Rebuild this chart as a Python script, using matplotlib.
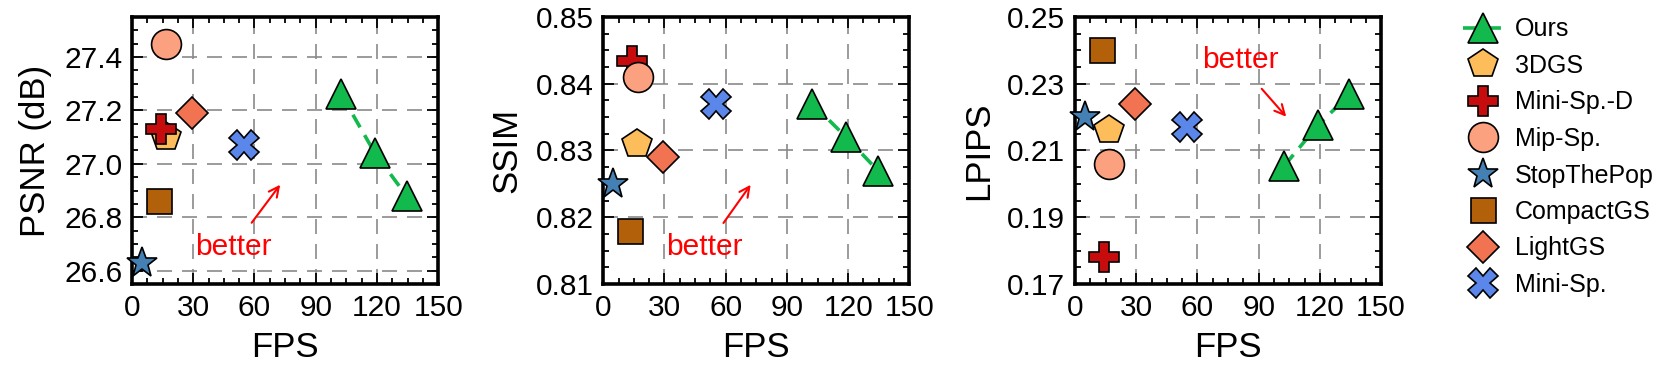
import matplotlib
matplotlib.use('Agg')
import matplotlib.pyplot as plt
from matplotlib.ticker import AutoMinorLocator
from matplotlib.lines import Line2D

plt.rcParams['font.family'] = ['Liberation Sans', 'DejaVu Sans']

# methods and their FPS
methods = ['3DGS', 'Mini-Sp.-D', 'Mip-Sp.', 'StopThePop', 'CompactGS', 'LightGS', 'Mini-Sp.']
fps = [16.5, 14.0, 16.8, 5.0, 13.0, 29.5, 55.0]
psnr = [27.10, 27.13, 27.45, 26.63, 26.86, 27.19, 27.07]
ssim = [0.831, 0.8434, 0.841, 0.825, 0.818, 0.829, 0.837]
lpips = [0.216, 0.178, 0.206, 0.220, 0.240, 0.224, 0.217]

# ours (three configs)
ours_fps = [102.5, 119.0, 134.5]
ours_psnr = [27.26, 27.04, 26.88]
ours_ssim = [0.837, 0.832, 0.827]
ours_lpips = [0.2054, 0.2175, 0.2268]

markers = ['p', 'P', 'o', '*', 's', 'D', 'X']
sizes = [22, 22, 21.5, 23, 18, 16, 21]
colors = ['#fdbd5b', '#c60c0c', '#fca17f', '#4580b5', '#b3600a', '#f17352', '#5b87ea']
ours_color = '#12b94c'
ours_dash = (0, (4, 2.5))

panels = [
    ('PSNR (dB)', psnr, ours_psnr, (26.55, 27.55), [26.6, 26.8, 27.0, 27.2, 27.4], '%.1f',
     ((49.5, 26.69), (57.8, 26.771), (73.4, 26.93))),
    ('SSIM', ssim, ours_ssim, (0.81, 0.85), [0.81, 0.82, 0.83, 0.84, 0.85], '%.2f',
     ((49.5, 0.8155), (58.1, 0.8188), (73.0, 0.8252))),
    ('LPIPS', lpips, ours_lpips, (0.17, 0.25), [0.17, 0.19, 0.21, 0.23, 0.25], '%.2f',
     ((80.9, 0.2371), (90.6, 0.2291), (104.4, 0.2195))),
]

fig = plt.figure(figsize=(16.61, 3.69), dpi=100)
lefts = [0.0795, 0.3632, 0.6472]

for i, (ylabel, vals, ours_vals, ylim, yticks, fmt, arrow) in enumerate(panels):
    ax = fig.add_axes([lefts[i], 0.2304, 0.1843, 0.7236])
    ax.set_axisbelow(True)
    ax.grid(True, which='major', linestyle=(0, (9, 6)), color='#8a8a8a', linewidth=1.2)
    ax.plot(ours_fps, ours_vals, linestyle=ours_dash, color=ours_color, linewidth=2.6,
            marker='^', markersize=22, markerfacecolor=ours_color, markeredgecolor='black',
            markeredgewidth=1.2, zorder=3)
    for j in range(len(methods)):
        ax.plot(fps[j], vals[j], linestyle='none', marker=markers[j], markersize=sizes[j],
                markerfacecolor=colors[j], markeredgecolor='black', markeredgewidth=1.2,
                zorder=3, clip_on=False)
    ax.set_xlim(0, 150)
    ax.set_ylim(*ylim)
    ax.set_xticks([0, 30, 60, 90, 120, 150])
    ax.set_yticks(yticks)
    ax.yaxis.set_major_formatter(plt.FormatStrFormatter(fmt))
    ax.xaxis.set_minor_locator(AutoMinorLocator(4))
    ax.yaxis.set_minor_locator(AutoMinorLocator(4))
    ax.tick_params(which='both', direction='in', top=True, right=True, labelsize=21.5, width=1.3)
    ax.tick_params(which='major', length=8, pad=7)
    ax.tick_params(which='minor', length=4)
    for sp in ax.spines.values():
        sp.set_linewidth(2.6)
    ax.set_xlabel('FPS', fontsize=25, labelpad=7)
    ax.set_ylabel(ylabel, fontsize=25, labelpad=9)
    (tx, ty), (ax0, ay0), (ax1, ay1) = arrow
    ax.text(tx, ty, 'better', color='red', fontsize=21.5, ha='center', va='center', zorder=4)
    ax.annotate('', xy=(ax1, ay1), xytext=(ax0, ay0),
                arrowprops=dict(arrowstyle='->', color='red', lw=1.5, mutation_scale=18), zorder=4)

handles = [Line2D([], [], linestyle=ours_dash, color=ours_color, linewidth=2.6, marker='^',
                  markersize=22, markerfacecolor=ours_color, markeredgecolor='black',
                  markeredgewidth=1.2)]
for j in range(len(methods)):
    handles.append(Line2D([], [], linestyle='none', marker=markers[j], markersize=sizes[j],
                          markerfacecolor=colors[j], markeredgecolor='black', markeredgewidth=1.2))
labels = ['Ours'] + methods
fig.legend(handles, labels, loc='upper left', bbox_to_anchor=(0.870, 1.0), frameon=False,
           fontsize=18, handlelength=1.6, handletextpad=0.48, labelspacing=0.5, borderpad=0.2)

fig.savefig('out.png', dpi=100)
